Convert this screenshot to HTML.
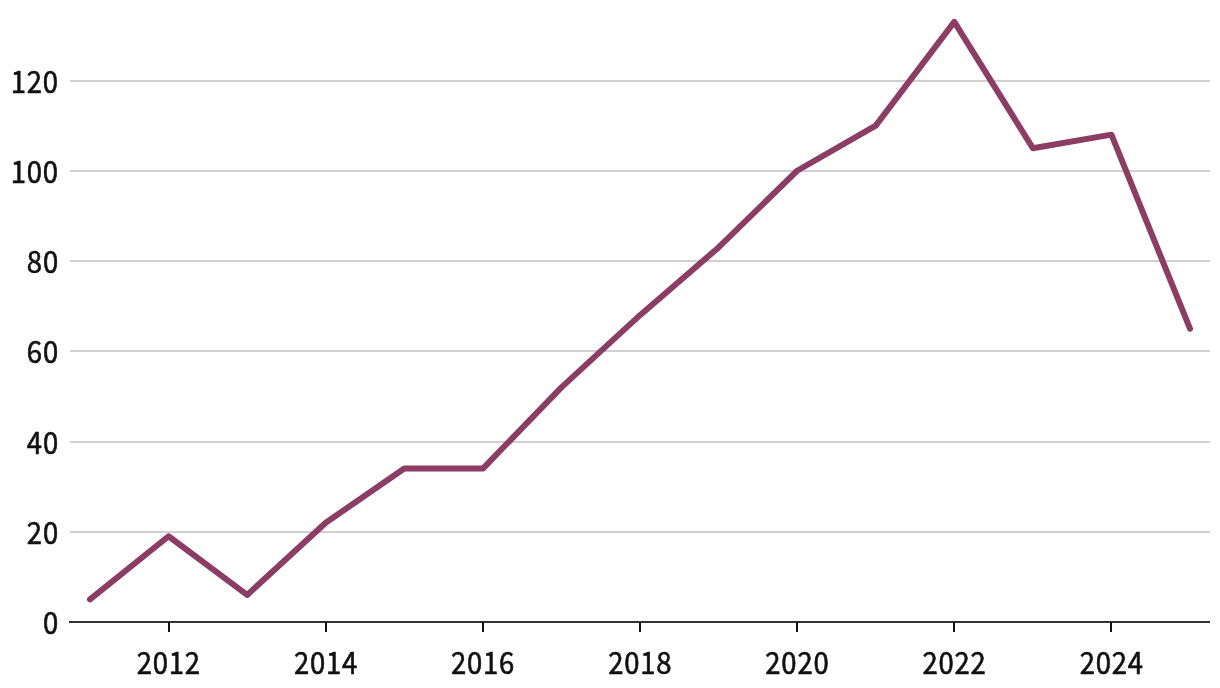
<!DOCTYPE html>
<html lang="en"><head><meta charset="utf-8"><title>Chart</title>
<style>
html,body{margin:0;padding:0;background:#fff;}
svg{display:block;}
text{font-family:"Noto Sans CJK SC","Liberation Sans",sans-serif;font-size:30.0px;font-weight:400;letter-spacing:0.85px;fill:#111111;stroke:#111111;stroke-width:0.65px;stroke-linejoin:round;}
</style></head><body>
<svg width="1220" height="688" viewBox="0 0 1220 688">
<rect width="1220" height="688" fill="#fff"/>
<g fill="#d0d0d0"><rect x="70" y="531" width="1140" height="2"/><rect x="70" y="441" width="1140" height="2"/><rect x="70" y="350" width="1140" height="2"/><rect x="70" y="260" width="1140" height="2"/><rect x="70" y="170" width="1140" height="2"/><rect x="70" y="80" width="1140" height="2"/></g>

<g><text transform="translate(58.90,634.20) scale(0.915,1)" text-anchor="end">0</text><text transform="translate(58.90,544.20) scale(0.915,1)" text-anchor="end">20</text><text transform="translate(58.90,454.20) scale(0.915,1)" text-anchor="end">40</text><text transform="translate(58.90,363.20) scale(0.915,1)" text-anchor="end">60</text><text transform="translate(58.90,273.20) scale(0.915,1)" text-anchor="end">80</text><text transform="translate(58.90,183.20) scale(0.915,1)" text-anchor="end">100</text><text transform="translate(58.90,93.20) scale(0.915,1)" text-anchor="end">120</text></g>
<polyline fill="none" stroke="#8b3d63" stroke-width="6" stroke-linecap="round" stroke-linejoin="round" points="90.00,599.44 168.57,536.26 247.14,594.92 325.71,522.73 404.29,468.57 482.86,468.57 561.43,387.35 640.00,315.15 718.57,247.46 797.14,170.75 875.71,125.62 954.29,21.84 1032.86,148.19 1111.43,134.65 1190.00,328.69"/>
<rect x="69" y="621" width="1141" height="2" fill="#333333"/>
<g fill="#111111"><rect x="168" y="622" width="2" height="10"/><rect x="325" y="622" width="2" height="10"/><rect x="482" y="622" width="2" height="10"/><rect x="639" y="622" width="2" height="10"/><rect x="796" y="622" width="2" height="10"/><rect x="953" y="622" width="2" height="10"/><rect x="1110" y="622" width="2" height="10"/></g>
<g><text transform="translate(168.82,674.00) scale(0.915,1)" text-anchor="middle">2012</text><text transform="translate(325.96,674.00) scale(0.915,1)" text-anchor="middle">2014</text><text transform="translate(483.11,674.00) scale(0.915,1)" text-anchor="middle">2016</text><text transform="translate(640.25,674.00) scale(0.915,1)" text-anchor="middle">2018</text><text transform="translate(797.39,674.00) scale(0.915,1)" text-anchor="middle">2020</text><text transform="translate(954.54,674.00) scale(0.915,1)" text-anchor="middle">2022</text><text transform="translate(1111.68,674.00) scale(0.915,1)" text-anchor="middle">2024</text></g>
</svg>
</body></html>
